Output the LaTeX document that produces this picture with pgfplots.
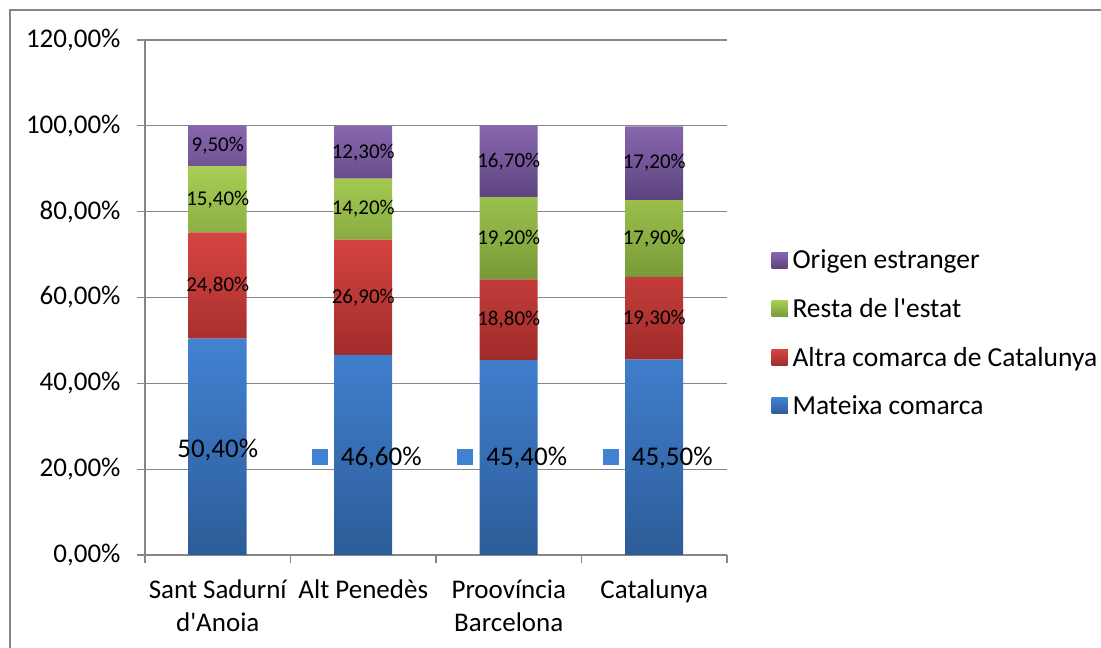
\documentclass[border=0pt]{standalone}
\usepackage{pgfplots}
\pgfplotsset{compat=1.18}
\usepackage{fontspec}
\setmainfont{Carlito}
\definecolor{bluT}{HTML}{4282D2}
\definecolor{bluB}{HTML}{2C5C98}
\definecolor{redT}{HTML}{D64542}
\definecolor{redB}{HTML}{A02C2A}
\definecolor{grnT}{HTML}{A8CE54}
\definecolor{grnB}{HTML}{789A38}
\definecolor{purT}{HTML}{8866AE}
\definecolor{purB}{HTML}{5C4480}
\definecolor{gridc}{HTML}{868686}
\newcommand{\bigf}{\fontsize{27}{33}\selectfont}
\newcommand{\legf}{\fontsize{27.5}{33}\selectfont}
\newcommand{\smallf}{\fontsize{21}{25}\selectfont}
\begin{document}
\begin{tikzpicture}[x=1pt,y=1pt]
\useasboundingbox (0,0) rectangle (1101,648);
\draw[gridc, line width=2pt] (10,-20) -- (10,638) -- (1120,638);
\begin{axis}[
  at={(145pt,93pt)}, anchor=south west,
  scale only axis, width=582pt, height=515pt,
  ybar stacked, bar width=58pt,
  xmin=-0.5, xmax=3.5, ymin=0, ymax=120,
  ytick={0,20,...,120},
  yticklabel={\pgfmathprintnumber[fixed,fixed zerofill,precision=2,use comma]{\tick}\%},
  /pgf/number format/assume math mode=true,
  ymajorgrids, grid style={gridc, line width=1.3pt},
  axis lines*=left, axis line style={gridc, line width=1.3pt, -},
  tick align=outside, major tick length=8pt, minor tick length=8pt,
  tick style={gridc, line width=1.3pt},
  xtick={0,1,2,3},
  xticklabels={{Sant Sadurní\\d\textquotesingle Anoia},{Alt Penedès},{Proovíncia\\Barcelona},{Catalunya}},
  major x tick style={draw=none},
  minor xtick={-0.5,0.5,1.5,2.5,3.5},
  xticklabel style={align=center, font=\bigf, yshift=-13pt},
  yticklabel style={font=\bigf, xshift=-13pt},
  ticklabel style={text=black},
  reverse legend,
  legend cell align=left,
  legend style={at={(1.071,0.431)}, anchor=west, draw=none, fill=none, font=\legf, row sep=24pt},
  legend image code/.code={\fill[#1] (0pt,-8pt) rectangle (16pt,8pt); \path (19pt,0pt);},
]
\addplot[draw=none, top color=bluT, bottom color=bluB] coordinates {(0,50.4)(1,46.6)(2,45.4)(3,45.5)};
\addlegendentry{Mateixa comarca}
\addplot[draw=none, top color=redT, bottom color=redB] coordinates {(0,24.8)(1,26.9)(2,18.8)(3,19.3)};
\addlegendentry{Altra comarca de Catalunya}
\addplot[draw=none, top color=grnT, bottom color=grnB] coordinates {(0,15.4)(1,14.2)(2,19.2)(3,17.9)};
\addlegendentry{Resta de l\textquotesingle estat}
\addplot[draw=none, top color=purT, bottom color=purB] coordinates {(0,9.5)(1,12.3)(2,16.7)(3,17.2)};
\addlegendentry{Origen estranger}
\coordinate (b0) at (axis cs:0,24.5);
\coordinate (b1) at (axis cs:1,22.6);
\coordinate (b2) at (axis cs:2,22.6);
\coordinate (b3) at (axis cs:3,22.6);
\coordinate (r0) at (axis cs:0,62.8);
\coordinate (r1) at (axis cs:1,60.05);
\coordinate (r2) at (axis cs:2,54.8);
\coordinate (r3) at (axis cs:3,55.15);
\coordinate (g0) at (axis cs:0,82.9);
\coordinate (g1) at (axis cs:1,80.6);
\coordinate (g2) at (axis cs:2,73.8);
\coordinate (g3) at (axis cs:3,73.75);
\coordinate (p0) at (axis cs:0,95.35);
\coordinate (p1) at (axis cs:1,93.85);
\coordinate (p2) at (axis cs:2,91.75);
\coordinate (p3) at (axis cs:3,91.3);
\end{axis}
\node[font=\bigf] at (b0) {50,40\%};
\node[font=\bigf, xshift=3.5pt] at (b1) {\textcolor{bluT}{\rule{16pt}{16pt}}\hspace{13pt}46,60\%};
\node[font=\bigf, xshift=3.5pt] at (b2) {\textcolor{bluT}{\rule{16pt}{16pt}}\hspace{13pt}45,40\%};
\node[font=\bigf, xshift=3.5pt] at (b3) {\textcolor{bluT}{\rule{16pt}{16pt}}\hspace{13pt}45,50\%};
\node[font=\smallf] at (r0) {24,80\%};
\node[font=\smallf] at (r1) {26,90\%};
\node[font=\smallf] at (r2) {18,80\%};
\node[font=\smallf] at (r3) {19,30\%};
\node[font=\smallf] at (g0) {15,40\%};
\node[font=\smallf] at (g1) {14,20\%};
\node[font=\smallf] at (g2) {19,20\%};
\node[font=\smallf] at (g3) {17,90\%};
\node[font=\smallf] at (p0) {9,50\%};
\node[font=\smallf] at (p1) {12,30\%};
\node[font=\smallf] at (p2) {16,70\%};
\node[font=\smallf] at (p3) {17,20\%};
\end{tikzpicture}
\end{document}
